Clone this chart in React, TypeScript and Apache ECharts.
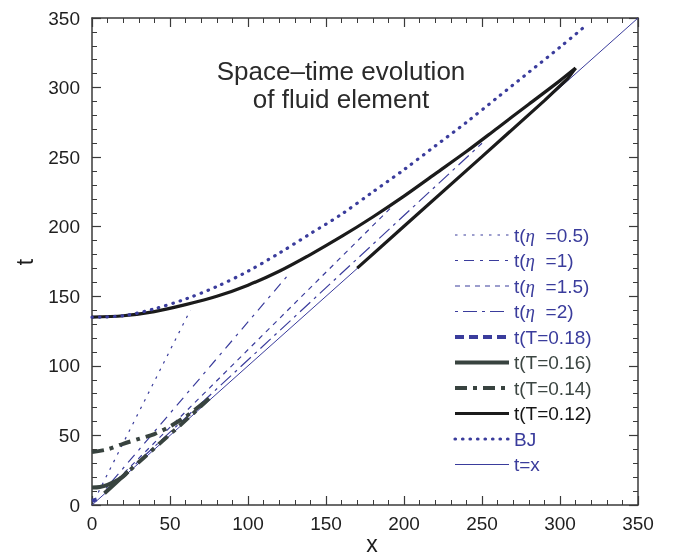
import React, { useEffect, useRef } from 'react';
import * as echarts from 'echarts';

// ---- data ([x, t]) ----
const eta05 = [[4, 9], [63, 140]];
const eta1 = [[9, 12], [127, 167]];
const eta15 = [[16, 18], [191, 213]];
const eta2 = [[28, 29.5], [250, 260]];
const T018 = [[0, 3], [3, 4]];
const T016Upper = [[0, 12.5], [5, 13], [10, 14.5], [15, 17], [20, 20.5], [23, 24]];
const T016Lower = [[23, 24], [15, 15.6], [8, 8.4]];
const T014Upper = [[0, 38], [10, 40], [20, 44], [30, 47.5], [40, 51], [50, 56.5], [60, 63.5], [70, 72], [75, 76.5]];
const T014Lower = [[75, 76.5], [65, 66], [50, 50.8], [35, 35.8], [22, 22.8]];
const T012Upper = [[0, 135], [20, 136], [40, 139], [60, 144], [80, 150], [100, 158], [120, 168], [140, 180], [160, 193], [180, 207], [200, 222], [220, 238], [240, 254], [260, 271], [280, 288], [300, 305], [310, 314]];
const T012Lower = [[310, 314], [305, 306.5], [290, 290.6], [250, 250.4], [200, 200.3], [170, 170.2]];
const bj = [[0, 135], [20, 136], [40, 141], [60, 148], [80, 157], [100, 168], [120, 181], [140, 195], [160, 209], [180, 225], [200, 241], [220, 258], [240, 275], [260, 293], [280, 311], [300, 329], [316, 344]];
const tx = [[0, 0], [350, 350]];

const axisMin = 0;
const axisMax = 350;
const axisInterval = 50;

const titleLines = ['Space\u2013time evolution', 'of fluid element'];
const xName = 'x';
const yName = 't';

const BLUE = '#3a3c9c';
const GRAY = '#38433f';
const BLACK = '#1b1b1b';
const FONT = '"Liberation Sans", Arial, Helvetica, sans-serif';

const legendNames = [
  't(η=0.5)', 't(η=1)', 't(η=1.5)', 't(η=2)',
  't(T=0.18)', 't(T=0.16)', 't(T=0.14)', 't(T=0.12)', 'BJ', 't=x',
];

function line(name: string, data: number[][], color: string, width: number, type: any, extra: any = {}) {
  return {
    type: 'line',
    name,
    data,
    showSymbol: false,
    symbol: 'none',
    lineStyle: { color, width, type, ...(extra.lineStyle || {}) },
    itemStyle: { color },
    smooth: extra.smooth ?? false,
    z: extra.z ?? 2,
    silent: true,
  };
}

export default function App() {
  const ref = useRef<HTMLDivElement>(null);
  useEffect(() => {
    document.body.style.margin = '0';
    const chart = echarts.init(ref.current!, null, { renderer: 'svg' });
    const axisCommon = {
      type: 'value',
      min: axisMin,
      max: axisMax,
      interval: axisInterval,
      axisLine: { show: true, onZero: false, lineStyle: { color: '#3a3a3a', width: 1.5 } },
      axisTick: { show: true, inside: true, length: 9, lineStyle: { color: '#3a3a3a', width: 1.2 } },
      minorTick: { show: true, splitNumber: 5, length: 5, lineStyle: { color: '#3a3a3a', width: 1 } },
      splitLine: { show: false },
    };
    const labelStyle = { color: '#1e1e1e', fontSize: 19, fontFamily: FONT };
    const etaFmt = (v: string) => `{b|t(}{i|η}{b|  =${v})}`;
    const fmtMap: Record<string, string> = {
      't(η=0.5)': etaFmt('0.5'),
      't(η=1)': etaFmt('1'),
      't(η=1.5)': etaFmt('1.5'),
      't(η=2)': etaFmt('2'),
      't(T=0.18)': '{b|t(T=0.18)}',
      't(T=0.16)': '{g|t(T=0.16)}',
      't(T=0.14)': '{g|t(T=0.14)}',
      't(T=0.12)': '{k|t(T=0.12)}',
      'BJ': '{b|BJ}',
      't=x': '{b|t=x}',
    };
    chart.setOption({
      animation: false,
      grid: { left: 92, right: 40, top: 18, bottom: 54, containLabel: false },
      xAxis: [
        { ...axisCommon, position: 'bottom', axisLabel: { ...labelStyle, margin: 9 } },
        { ...axisCommon, position: 'top', axisLabel: { show: false } },
      ],
      yAxis: [
        { ...axisCommon, position: 'left', axisLabel: { ...labelStyle, margin: 12 } },
        { ...axisCommon, position: 'right', axisLabel: { show: false } },
      ],
      legend: {
        orient: 'vertical',
        left: 453,
        top: 225,
        padding: 0,
        itemWidth: 54,
        itemHeight: 14,
        itemGap: 5.5,
        selectedMode: false,
        data: legendNames,
        itemStyle: { opacity: 0, borderWidth: 0 },
        lineStyle: { width: 'inherit', type: 'inherit', color: 'inherit', cap: 'inherit' },
        formatter: (name: string) => fmtMap[name] || name,
        textStyle: {
          fontFamily: FONT,
          fontSize: 19,
          lineHeight: 20,
          rich: {
            b: { color: BLUE, fontSize: 19, fontFamily: FONT, lineHeight: 20 },
            i: { color: BLUE, fontSize: 19, fontFamily: '"Liberation Serif", serif', fontStyle: 'italic', lineHeight: 20 },
            g: { color: '#3c4642', fontSize: 19, fontFamily: FONT, lineHeight: 20 },
            k: { color: '#151515', fontSize: 19, fontFamily: FONT, lineHeight: 20 },
          },
        },
      },
      graphic: [
        {
          type: 'text',
          x: 341,
          y: 57,
          style: {
            text: titleLines.join('\n'),
            align: 'center',
            fontSize: 26,
            lineHeight: 28,
            fontFamily: FONT,
            fill: '#2a2a2a',
          },
        },
        {
          type: 'text',
          x: 25,
          y: 262,
          rotation: Math.PI / 2,
          style: { text: yName, fontSize: 23, fontFamily: FONT, fill: '#1e1e1e', align: 'center', verticalAlign: 'middle' },
        },
        {
          type: 'text',
          x: 372,
          y: 544,
          style: { text: xName, fontSize: 23, fontFamily: FONT, fill: '#1e1e1e', align: 'center', verticalAlign: 'middle' },
        },
      ],
      series: [
        line('t(η=0.5)', eta05, BLUE, 1.2, [2.5, 6]),
        line('t(η=1)', eta1, BLUE, 1.2, [3, 6, 10, 6]),
        line('t(η=1.5)', eta15, BLUE, 1.2, [5, 5]),
        line('t(η=2)', eta2, BLUE, 1.2, [3, 5, 14, 5]),
        line('t(T=0.18)', T018, BLUE, 4, [9, 5]),
        line('t(T=0.16)', T016Upper, GRAY, 4, 'solid', { smooth: 0.3 }),
        line('t(T=0.16)', T016Lower, GRAY, 4, 'solid'),
        line('t(T=0.14)', T014Upper, GRAY, 4, [12, 6, 4, 6], { smooth: 0.3 }),
        line('t(T=0.14)', T014Lower, GRAY, 4, [12, 6, 4, 6]),
        line('t(T=0.12)', T012Upper, BLACK, 3.2, 'solid', { smooth: 0.3 }),
        line('t(T=0.12)', T012Lower, BLACK, 3.2, 'solid'),
        line('BJ', bj, BLUE, 3.2, [0.5, 7], { smooth: 0.3, lineStyle: { cap: 'round' } }),
        line('t=x', tx, BLUE, 1, 'solid', { z: 1 }),
      ],
    });
    return () => chart.dispose();
  }, []);
  return <div ref={ref} style={{ position: 'fixed', left: 0, top: 0, width: 678, height: 559 }} />;
}
